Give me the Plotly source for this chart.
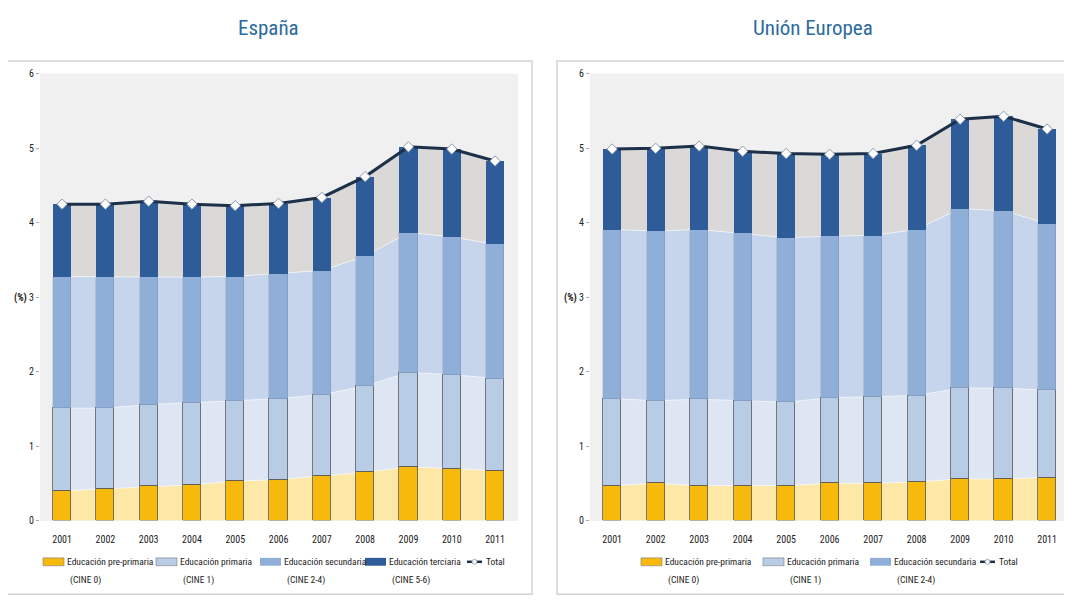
import plotly.graph_objects as go

W, H = 1072, 603
OFF = 8  # the page body adds an 8px margin around the figure

years = [2001, 2002, 2003, 2004, 2005, 2006, 2007, 2008, 2009, 2010, 2011]
y_ticks = [0, 1, 2, 3, 4, 5, 6]
y_ticktext = ["0", "1", "2", "<b>(%)</b> 3", "4", "5", "6"]

# España (% del PIB)
es_pre = [0.40, 0.43, 0.46, 0.48, 0.53, 0.55, 0.60, 0.65, 0.72, 0.70, 0.67]
es_prim = [1.11, 1.08, 1.10, 1.10, 1.08, 1.09, 1.09, 1.16, 1.27, 1.26, 1.24]
es_sec = [1.77, 1.76, 1.71, 1.69, 1.67, 1.68, 1.67, 1.74, 1.88, 1.85, 1.80]
es_ter = [0.97, 0.98, 1.02, 0.98, 0.95, 0.94, 0.98, 1.07, 1.15, 1.18, 1.12]
es_total = [4.25, 4.25, 4.29, 4.25, 4.23, 4.26, 4.34, 4.62, 5.02, 4.99, 4.83]

# Unión Europea (% del PIB)
eu_pre = [0.47, 0.50, 0.47, 0.47, 0.47, 0.50, 0.50, 0.52, 0.56, 0.56, 0.58]
eu_prim = [1.17, 1.11, 1.16, 1.14, 1.12, 1.15, 1.16, 1.16, 1.22, 1.22, 1.17]
eu_sec = [2.27, 2.28, 2.28, 2.25, 2.21, 2.17, 2.17, 2.23, 2.41, 2.38, 2.24]
eu_ter = [1.08, 1.11, 1.12, 1.10, 1.13, 1.10, 1.10, 1.13, 1.20, 1.27, 1.27]
eu_total = [4.99, 5.00, 5.03, 4.96, 4.93, 4.92, 4.93, 5.04, 5.39, 5.43, 5.26]

series_names = ["Educación pre-primaria", "Educación primaria",
                "Educación secundaria", "Educación terciaria"]
series_codes = ["(CINE 0)", "(CINE 1)", "(CINE 2-4)", "(CINE 5-6)"]

bar_colors = ["#F7B90C", "#B9CCE5", "#8FAED8", "#2E5C98"]
area_colors = ["#FDE8A8", "#DEE6F3", "#C6D5EB", "#DAD9D7"]
bar_lines = [("#5b5b5b", 0.8), ("#5b5b5b", 0.8), ("rgba(90,90,90,0.35)", 0.5), ("rgba(0,0,0,0)", 0)]

FONT = "Roboto Condensed, DejaVu Sans Condensed, sans-serif"

fig = go.Figure()


def add_panel(comps, total, xa, ya, sg):
    # background stacked areas (between the bars)
    for i, vals in enumerate(comps):
        fig.add_trace(go.Scatter(
            x=years, y=vals, xaxis=xa, yaxis=ya, stackgroup=sg,
            mode="lines", line=dict(width=1, color="rgba(255,255,255,0.6)"),
            fillcolor=area_colors[i], hoverinfo="skip", showlegend=False, zorder=0))
    # stacked bars
    for i, vals in enumerate(comps):
        fig.add_trace(go.Bar(
            x=years, y=vals, xaxis=xa, yaxis=ya, width=0.42,
            marker=dict(color=bar_colors[i],
                        line=dict(color=bar_lines[i][0], width=bar_lines[i][1])),
            name=series_names[i], showlegend=False, zorder=1))
    # total line
    fig.add_trace(go.Scatter(
        x=years, y=total, xaxis=xa, yaxis=ya, mode="lines+markers",
        line=dict(color="#1D3049", width=3),
        marker=dict(symbol="diamond", size=8, color="white",
                    line=dict(color="#8B9BB2", width=1)),
        name="Total", showlegend=False, zorder=2))


add_panel([es_pre, es_prim, es_sec, es_ter], es_total, "x", "y", "es")
add_panel([eu_pre, eu_prim, eu_sec, eu_ter], eu_total, "x2", "y2", "eu")


def px(x):
    return (x - OFF) / W


def py(y):
    return 1 - (y - OFF) / H


y_dom = [py(525), py(70)]

xax_common = dict(
    tickmode="array", tickvals=years, ticktext=[str(y) for y in years],
    showgrid=False, zeroline=False, showline=True, linecolor="#BDBDBD", linewidth=1,
    ticks="", tickfont=dict(family=FONT, size=10, color="#222"),
    ticklabelstandoff=9, fixedrange=True)
yax_common = dict(
    range=[0, 6], tickmode="array", tickvals=y_ticks, ticktext=y_ticktext,
    showgrid=False, zeroline=False, showline=True, linecolor="#A9A9A9", linewidth=1,
    ticks="outside", ticklen=3, tickcolor="#A9A9A9",
    tickfont=dict(family=FONT, size=10, color="#222"), fixedrange=True)

fig.update_layout(
    width=W, height=H,
    margin=dict(l=0, r=0, t=0, b=0),
    paper_bgcolor="white",
    plot_bgcolor="#F0F0F0",
    barmode="stack",
    bargap=0,
    showlegend=False,
    xaxis=dict(domain=[px(40), px(518)], range=[2000.49, 2011.53], anchor="y", **xax_common),
    yaxis=dict(domain=y_dom, anchor="x", **yax_common),
    xaxis2=dict(domain=[px(590), px(1068)], range=[2000.49, 2011.48], anchor="y2", **xax_common),
    yaxis2=dict(domain=y_dom, anchor="x2", **yax_common),
)

shapes = []
annotations = []

# panel frames
for (x0, x1) in [(7, 532), (557, 1071)]:
    shapes.append(dict(type="rect", xref="paper", yref="paper",
                       x0=px(x0), x1=px(x1), y0=py(600), y1=py(57),
                       line=dict(color="#D3D3D3", width=1.5), fillcolor="rgba(0,0,0,0)",
                       layer="below"))

# titles
annotations.append(dict(text="España", x=px(268), y=py(23), xref="paper", yref="paper",
                        showarrow=False, xanchor="center", yanchor="middle",
                        font=dict(family=FONT, size=21, color="#2B6A9E")))
annotations.append(dict(text="Unión Europea", x=px(813), y=py(23), xref="paper", yref="paper",
                        showarrow=False, xanchor="center", yanchor="middle",
                        font=dict(family=FONT, size=21, color="#2B6A9E")))

LEG_SIZE = 9.5


def legend(items, total_x):
    for (i, sx) in items:
        shapes.append(dict(type="rect", xref="paper", yref="paper",
                           x0=px(sx), x1=px(sx + 21), y0=py(571), y1=py(563),
                           line=dict(color="#7a7a7a" if i < 2 else "rgba(0,0,0,0)", width=0.6),
                           fillcolor=bar_colors[i]))
        annotations.append(dict(text=series_names[i], x=px(sx + 22), y=py(567),
                                xref="paper", yref="paper", showarrow=False,
                                xanchor="left", yanchor="middle",
                                font=dict(family=FONT, size=LEG_SIZE, color="#222")))
        annotations.append(dict(text=series_codes[i], x=px(sx + 25), y=py(586),
                                xref="paper", yref="paper", showarrow=False,
                                xanchor="left", yanchor="middle",
                                font=dict(family=FONT, size=LEG_SIZE, color="#222")))
    shapes.append(dict(type="line", xref="paper", yref="paper",
                       x0=px(total_x), x1=px(total_x + 15), y0=py(567), y1=py(567),
                       line=dict(color="#1D3049", width=2.5)))
    shapes.append(dict(type="circle", xref="paper", yref="paper",
                       x0=px(total_x + 5), x1=px(total_x + 10), y0=py(569.5), y1=py(564.5),
                       line=dict(color="#8B9BB2", width=0.8), fillcolor="white"))
    annotations.append(dict(text="Total", x=px(total_x + 17), y=py(567),
                            xref="paper", yref="paper", showarrow=False,
                            xanchor="left", yanchor="middle",
                            font=dict(family=FONT, size=LEG_SIZE, color="#222")))


legend([(0, 43), (1, 156), (2, 260), (3, 365)], 467)
legend([(0, 641), (1, 763), (2, 870)], 980)

fig.update_layout(shapes=shapes, annotations=annotations)

fig.write_html("out.html")
